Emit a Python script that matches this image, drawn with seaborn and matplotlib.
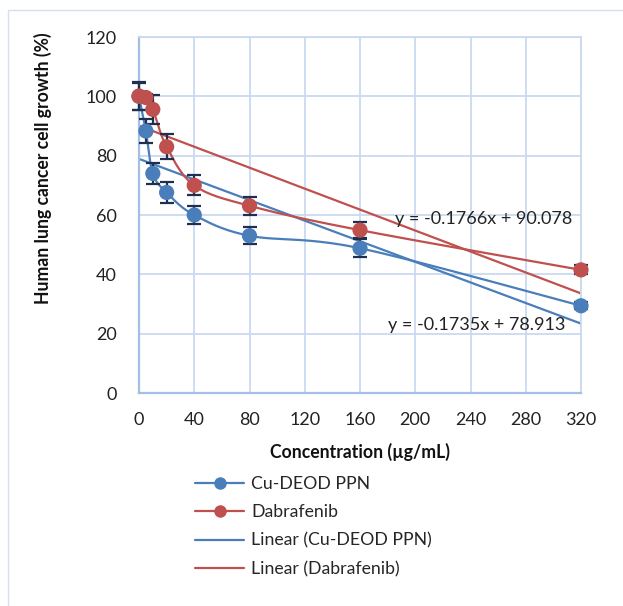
import numpy as np
import pandas as pd
import matplotlib
matplotlib.use("Agg")
import matplotlib.pyplot as plt
from matplotlib.lines import Line2D
from matplotlib.patches import Rectangle
import seaborn as sns

# data
concentration = [0, 5, 10, 20, 40, 80, 160, 320]
cu_growth = [100, 88.3, 74.0, 67.6, 60.0, 53.0, 48.8, 29.4]
cu_err = [4.6, 4.1, 3.5, 3.4, 2.9, 2.8, 3.0, 1.2]
dab_growth = [100.1, 99.6, 95.6, 83.0, 70.0, 63.1, 54.9, 41.5]
dab_err = [4.6, 1.2, 4.8, 4.2, 3.4, 3.1, 2.8, 1.5]

# linear trendlines as printed on the chart
cu_slope, cu_icpt = -0.1735, 78.913
dab_slope, dab_icpt = -0.1766, 90.078

x_ticks = [0, 40, 80, 120, 160, 200, 240, 280, 320]
y_ticks = [0, 20, 40, 60, 80, 100, 120]

BLUE = "#4a7ebb"
RED = "#c0504d"
ERR = "#1f2f4f"
GRID = "#c9daf0"
AXIS = "#a3bfe3"
FONT = "Lato"


def smooth_curve(xs, ys, n=40):
    """Excel-style smoothed line: Catmull-Rom converted to cubic Bezier segments."""
    pts = np.column_stack([xs, ys]).astype(float)
    out = [pts[0]]
    t = np.linspace(0, 1, n)[1:, None]
    for i in range(len(pts) - 1):
        p0 = pts[max(i - 1, 0)]
        p1 = pts[i]
        p2 = pts[i + 1]
        p3 = pts[min(i + 2, len(pts) - 1)]
        c1 = p1 + (p2 - p0) / 6
        c2 = p2 - (p3 - p1) / 6
        seg = ((1 - t) ** 3) * p1 + 3 * ((1 - t) ** 2) * t * c1 + 3 * (1 - t) * t ** 2 * c2 + t ** 3 * p2
        out.extend(seg)
    out = np.array(out)
    return out[:, 0], out[:, 1]


sns.set_theme(style="white")
plt.rcParams["font.family"] = [FONT, "DejaVu Sans"]

df = pd.DataFrame({
    "conc": concentration * 2,
    "growth": cu_growth + dab_growth,
    "series": ["Cu-DEOD PPN"] * len(concentration) + ["Dabrafenib"] * len(concentration),
})

fig = plt.figure(figsize=(6.23, 6.06), dpi=100)
ax = fig.add_axes([139 / 623, 1 - 393 / 606, 442 / 623, 356 / 606])

# chart area border (cut off at right and bottom, as in the reference)
fig.patches.append(Rectangle((8 / 623, -0.1), 1.2, 1.1 - 10 / 606, transform=fig.transFigure,
                             fill=False, edgecolor="#d5e0ee", lw=1.0, zorder=0))

# trendlines
x_fit = np.array([0, 320])
ax.plot(x_fit, cu_icpt + cu_slope * x_fit, color=BLUE, lw=1.6, zorder=2)
ax.plot(x_fit, dab_icpt + dab_slope * x_fit, color=RED, lw=1.6, zorder=2)

# smoothed data lines
sx, sy = smooth_curve(concentration, cu_growth)
ax.plot(sx, sy, color=BLUE, lw=1.6, zorder=3)
sx, sy = smooth_curve(concentration, dab_growth)
ax.plot(sx, sy, color=RED, lw=1.6, zorder=3)

# error bars
for ys, es in [(cu_growth, cu_err), (dab_growth, dab_err)]:
    eb = ax.errorbar(concentration, ys, yerr=es, fmt="none", ecolor=ERR,
                     elinewidth=1.6, capsize=5, capthick=1.6, zorder=4)
    for art in eb.lines[1] + eb.lines[2]:
        art.set_clip_on(False)

# markers
sns.scatterplot(data=df, x="conc", y="growth", hue="series",
                palette={"Cu-DEOD PPN": BLUE, "Dabrafenib": RED},
                s=120, edgecolor="none", legend=False, ax=ax, zorder=5, clip_on=False)

ax.set_xlim(0, 320)
ax.set_ylim(0, 120)
ax.set_xticks(x_ticks)
ax.set_yticks(y_ticks)
ax.tick_params(axis="both", length=0, labelsize=13, colors="#222222")
ax.tick_params(axis="x", pad=14)
ax.tick_params(axis="y", pad=16)
ax.grid(True, color=GRID, lw=1.3)
ax.set_axisbelow(True)
for side in ["top", "right"]:
    ax.spines[side].set_color(GRID)
    ax.spines[side].set_linewidth(1.3)
for side in ["left", "bottom"]:
    ax.spines[side].set_color(AXIS)
    ax.spines[side].set_linewidth(1.6)
ax.set_xlabel("")
ax.set_ylabel("")

fig.text(43 / 623, 1 - 168 / 606, "Human lung cancer cell growth (%)", rotation=90,
         ha="center", va="center", fontsize=12.7, fontweight="bold", color="#111111")
fig.text(360 / 623, 1 - 452 / 606, "Concentration (µg/mL)", ha="center", va="center",
         fontsize=12.7, fontweight="bold", color="#111111")

fig.text(395 / 623, 1 - 219 / 606, f"y = {dab_slope}x + {dab_icpt:.3f}", ha="left", va="center",
         fontsize=13, color="#222222", zorder=6)
fig.text(388 / 623, 1 - 325 / 606, f"y = {cu_slope}x + {cu_icpt:.3f}", ha="left", va="center",
         fontsize=13, color="#222222", zorder=6)

handles = [
    Line2D([], [], color=BLUE, lw=1.6, marker="o", markersize=9, markeredgecolor="none"),
    Line2D([], [], color=RED, lw=1.6, marker="o", markersize=9, markeredgecolor="none"),
    Line2D([], [], color=BLUE, lw=1.6),
    Line2D([], [], color=RED, lw=1.6),
]
labels = ["Cu-DEOD PPN", "Dabrafenib", "Linear (Cu-DEOD PPN)", "Linear (Dabrafenib)"]
fig.legend(handles, labels, loc="upper left", bbox_to_anchor=(195 / 623, 1 - 476 / 606),
           frameon=False, fontsize=12.7, handlelength=2.8, handletextpad=0.4,
           labelspacing=0.7, borderpad=0, borderaxespad=0)

fig.savefig("out.png", dpi=100)
